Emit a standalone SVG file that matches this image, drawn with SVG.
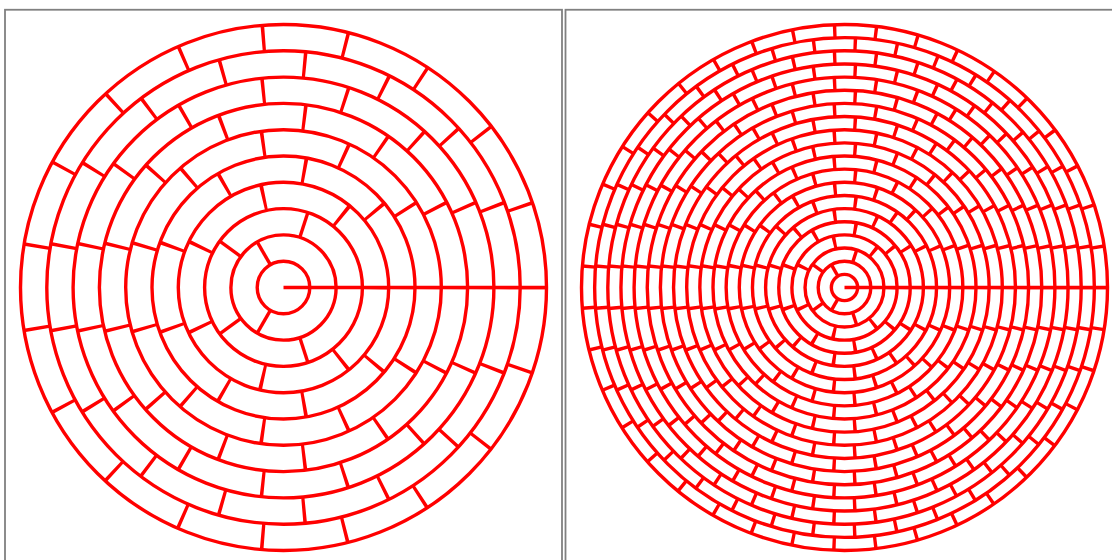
<svg xmlns="http://www.w3.org/2000/svg" width="1112" height="560" viewBox="0 0 1112 560">
<style>
.frame{fill:none;stroke:#808080;stroke-width:1.8}
.ring{fill:none;stroke:#ff0000;stroke-width:3.4}
.wl{fill:none;stroke:#ff0000;stroke-width:26.3;stroke-dasharray:3.4 79.2239;stroke-dashoffset:1.7}
.wr{fill:none;stroke:#ff0000;stroke-width:13.15;stroke-dasharray:3.4 37.9119;stroke-dashoffset:1.7}
.wall{stroke:#ff0000;stroke-width:3.4;stroke-linecap:butt;fill:none}
</style>
<rect width="1112" height="560" fill="#ffffff"/>
<g id="frames">
<rect class="frame" x="5" y="9.75" width="557" height="560"/>
<rect class="frame" x="565.5" y="9.75" width="560" height="560"/>
</g>
<g id="left-maze">
<g id="left-walls">
<circle class="wl" cx="283.5" cy="287.5" r="92.05"/>
<circle class="wl" cx="283.5" cy="287.5" r="118.35"/>
<circle class="wl" cx="283.5" cy="287.5" r="144.65"/>
<circle class="wl" cx="283.5" cy="287.5" r="170.95"/>
<circle class="wl" cx="283.5" cy="287.5" r="197.25"/>
<circle class="wl" cx="283.5" cy="287.5" r="223.55"/>
<circle class="wl" cx="283.5" cy="287.5" r="249.85"/>
<line class="wall" x1="309.8" y1="287.5" x2="336.1" y2="287.5" transform="rotate(120 283.5 287.5)"/>
<line class="wall" x1="309.8" y1="287.5" x2="336.1" y2="287.5" transform="rotate(240 283.5 287.5)"/>
<line class="wall" x1="336.1" y1="287.5" x2="362.4" y2="287.5" transform="rotate(72 283.5 287.5)"/>
<line class="wall" x1="336.1" y1="287.5" x2="362.4" y2="287.5" transform="rotate(144 283.5 287.5)"/>
<line class="wall" x1="336.1" y1="287.5" x2="362.4" y2="287.5" transform="rotate(216 283.5 287.5)"/>
<line class="wall" x1="336.1" y1="287.5" x2="362.4" y2="287.5" transform="rotate(288 283.5 287.5)"/>
<line class="wall" x1="283.5" y1="287.5" x2="546.5" y2="287.5"/>
</g>
<g id="left-rings">
<circle class="ring" cx="283.5" cy="287.5" r="26.3"/>
<circle class="ring" cx="283.5" cy="287.5" r="52.6"/>
<circle class="ring" cx="283.5" cy="287.5" r="78.9"/>
<circle class="ring" cx="283.5" cy="287.5" r="105.2"/>
<circle class="ring" cx="283.5" cy="287.5" r="131.5"/>
<circle class="ring" cx="283.5" cy="287.5" r="157.8"/>
<circle class="ring" cx="283.5" cy="287.5" r="184.1"/>
<circle class="ring" cx="283.5" cy="287.5" r="210.4"/>
<circle class="ring" cx="283.5" cy="287.5" r="236.7"/>
<circle class="ring" cx="283.5" cy="287.5" r="263"/>
</g>
</g>
<g id="right-maze">
<g id="right-walls">
<circle class="wr" cx="844.5" cy="287.5" r="46.025"/>
<circle class="wr" cx="844.5" cy="287.5" r="59.175"/>
<circle class="wr" cx="844.5" cy="287.5" r="72.325"/>
<circle class="wr" cx="844.5" cy="287.5" r="85.475"/>
<circle class="wr" cx="844.5" cy="287.5" r="98.625"/>
<circle class="wr" cx="844.5" cy="287.5" r="111.775"/>
<circle class="wr" cx="844.5" cy="287.5" r="124.925"/>
<circle class="wr" cx="844.5" cy="287.5" r="138.075"/>
<circle class="wr" cx="844.5" cy="287.5" r="151.225"/>
<circle class="wr" cx="844.5" cy="287.5" r="164.375"/>
<circle class="wr" cx="844.5" cy="287.5" r="177.525"/>
<circle class="wr" cx="844.5" cy="287.5" r="190.675"/>
<circle class="wr" cx="844.5" cy="287.5" r="203.825"/>
<circle class="wr" cx="844.5" cy="287.5" r="216.975"/>
<circle class="wr" cx="844.5" cy="287.5" r="230.125"/>
<circle class="wr" cx="844.5" cy="287.5" r="243.275"/>
<circle class="wr" cx="844.5" cy="287.5" r="256.425"/>
<line class="wall" x1="857.65" y1="287.5" x2="870.8" y2="287.5" transform="rotate(120 844.5 287.5)"/>
<line class="wall" x1="857.65" y1="287.5" x2="870.8" y2="287.5" transform="rotate(240 844.5 287.5)"/>
<line class="wall" x1="870.8" y1="287.5" x2="883.95" y2="287.5" transform="rotate(72 844.5 287.5)"/>
<line class="wall" x1="870.8" y1="287.5" x2="883.95" y2="287.5" transform="rotate(144 844.5 287.5)"/>
<line class="wall" x1="870.8" y1="287.5" x2="883.95" y2="287.5" transform="rotate(216 844.5 287.5)"/>
<line class="wall" x1="870.8" y1="287.5" x2="883.95" y2="287.5" transform="rotate(288 844.5 287.5)"/>
<line class="wall" x1="844.5" y1="287.5" x2="1107.5" y2="287.5"/>
</g>
<g id="right-rings">
<circle class="ring" cx="844.5" cy="287.5" r="13.15"/>
<circle class="ring" cx="844.5" cy="287.5" r="26.3"/>
<circle class="ring" cx="844.5" cy="287.5" r="39.45"/>
<circle class="ring" cx="844.5" cy="287.5" r="52.6"/>
<circle class="ring" cx="844.5" cy="287.5" r="65.75"/>
<circle class="ring" cx="844.5" cy="287.5" r="78.9"/>
<circle class="ring" cx="844.5" cy="287.5" r="92.05"/>
<circle class="ring" cx="844.5" cy="287.5" r="105.2"/>
<circle class="ring" cx="844.5" cy="287.5" r="118.35"/>
<circle class="ring" cx="844.5" cy="287.5" r="131.5"/>
<circle class="ring" cx="844.5" cy="287.5" r="144.65"/>
<circle class="ring" cx="844.5" cy="287.5" r="157.8"/>
<circle class="ring" cx="844.5" cy="287.5" r="170.95"/>
<circle class="ring" cx="844.5" cy="287.5" r="184.1"/>
<circle class="ring" cx="844.5" cy="287.5" r="197.25"/>
<circle class="ring" cx="844.5" cy="287.5" r="210.4"/>
<circle class="ring" cx="844.5" cy="287.5" r="223.55"/>
<circle class="ring" cx="844.5" cy="287.5" r="236.7"/>
<circle class="ring" cx="844.5" cy="287.5" r="249.85"/>
<circle class="ring" cx="844.5" cy="287.5" r="263"/>
</g>
</g>
</svg>
